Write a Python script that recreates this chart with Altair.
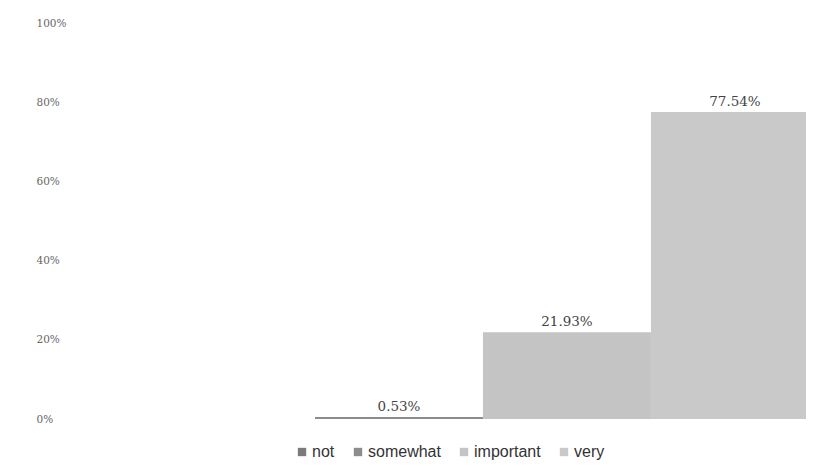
import altair as alt
import pandas as pd

categories = ["not", "somewhat", "important", "very"]
values = [0.0, 0.53, 21.93, 77.54]
labels = ["", "0.53%", "21.93%", "77.54%"]
colors = ["#7a7a7a", "#8c8c8c", "#c4c4c4", "#c9c9c9"]

df = pd.DataFrame({
    "category": categories,
    "pos": list(range(len(categories))),
    "value": [v / 100 for v in values],
    "label": labels,
})

# plot area is 659 px wide, each category band is 168 px -> last band is cut at the right edge
xscale = alt.Scale(domain=[0, 3.923], nice=False, zero=False)
y = alt.Y("value:Q", scale=alt.Scale(domain=[0, 1]),
          axis=alt.Axis(format=".0%", values=[0, 0.2, 0.4, 0.6, 0.8, 1.0],
                        domain=False, ticks=False, grid=False, title=None,
                        labelPadding=111, labelAlign="left",
                        labelFont="DejaVu Serif", labelFontSize=10.5,
                        labelColor="#666666"))

base = alt.Chart(df).transform_calculate(
    x0="datum.pos", x1="datum.pos + 1", xm="datum.pos + 0.5"
)

bars = base.mark_bar(clip=True).encode(
    x=alt.X("x0:Q", scale=xscale, axis=None),
    x2="x1:Q",
    y=y,
    y2=alt.datum(0),
    color=alt.Color("category:N", sort=categories,
                    scale=alt.Scale(domain=categories, range=colors),
                    legend=alt.Legend(title=None, orient="none", legendX=147, legendY=421,
                                      direction="horizontal", symbolType="square",
                                      symbolSize=70, symbolStrokeWidth=0,
                                      labelFont="Liberation Sans", labelFontSize=16,
                                      labelColor="#333333", columnPadding=15,
                                      labelOffset=2)),
)

text = base.transform_filter("datum.value > 0").mark_text(
    dy=-10, font="DejaVu Serif", fontSize=13.5, color="#444444"
).encode(x=alt.X("xm:Q", scale=xscale, axis=None), y=y, text="label:N")

chart = (bars + text).properties(
    width=659, height=396,
    autosize=alt.AutoSizeParams(type="none"),
    padding={"left": 139, "top": 15, "right": 0, "bottom": 43},
).configure_view(stroke=None)

chart.save("out.html", embed_options={"renderer": "svg", "actions": False})
